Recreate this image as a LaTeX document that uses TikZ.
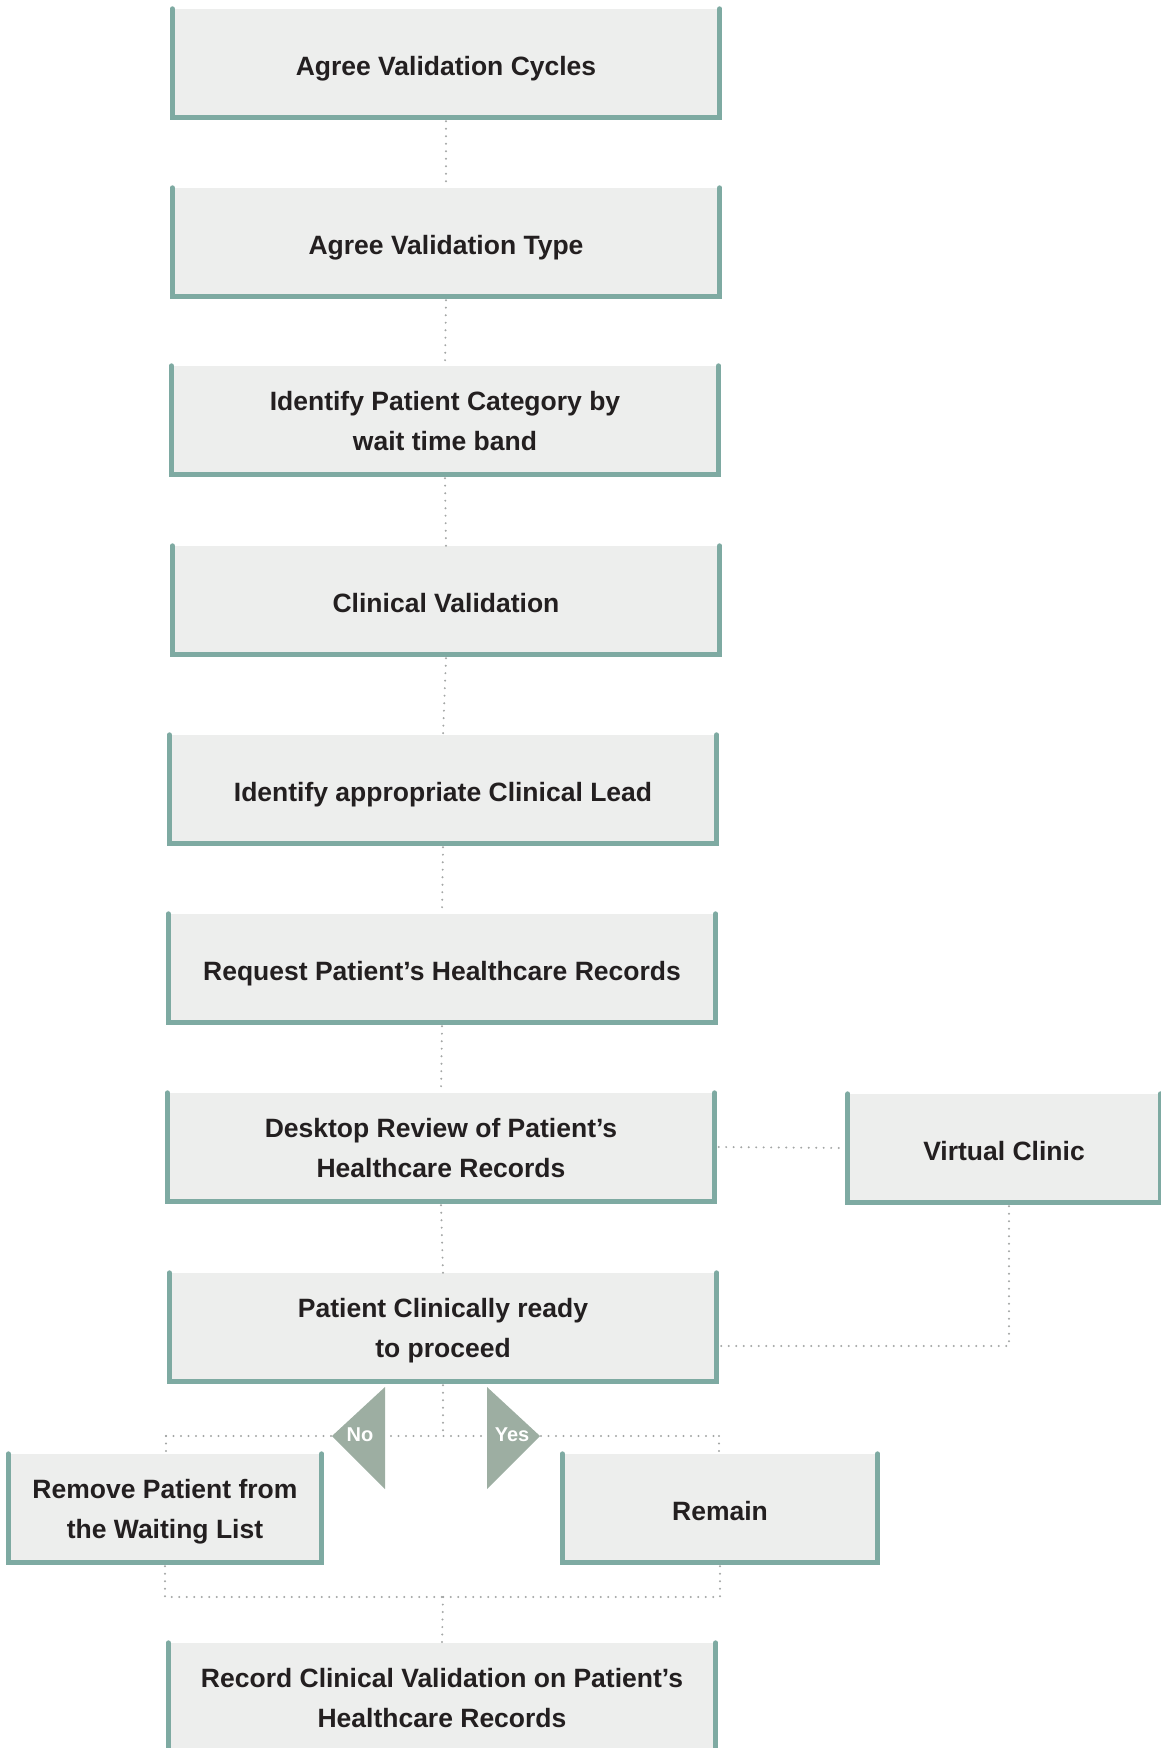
\documentclass[tikz,border=0pt]{standalone}
\usepackage{fontspec}
\setmainfont{Liberation Sans}
\usetikzlibrary{calc}
\definecolor{boxfill}{HTML}{EDEEED}
\definecolor{tealline}{HTML}{7EAAA2}
\definecolor{dotgrey}{HTML}{A3A6A5}
\definecolor{trifill}{HTML}{9DAEA2}
\definecolor{txt}{HTML}{231F20}
\begin{document}
\begin{tikzpicture}[x=1pt,y=-1pt,
  stepbox/.style={fill=boxfill, inner sep=0pt, minimum width=547pt, minimum height=108pt,
    align=center, text=txt, font=\bfseries\fontsize{26.5}{40}\selectfont,
    text height=31pt, text depth=6pt},
  twoline/.style={text height=66.5pt, text depth=5.8pt},
  sidebox/.style={stepbox, minimum width=313pt},
  uline/.style={draw=tealline, line width=5pt, line cap=round, line join=miter},
  conn/.style={draw=dotgrey, line width=2.2pt, line cap=round, dash pattern=on 0pt off 7.5pt},
  tri/.style={fill=trifill},
  trilabel/.style={text=white, font=\bfseries\fontsize{20}{24}\selectfont, inner sep=0pt}
]
\useasboundingbox (0,0) rectangle (1161,1748);

\node[stepbox] (b1) at (446,63) {Agree Validation Cycles};
\node[stepbox] (b2) at (446,242) {Agree Validation Type};
\node[stepbox, twoline] (b3) at (445,420) {Identify Patient Category by\\wait time band};
\node[stepbox] (b4) at (446,600) {Clinical Validation};
\node[stepbox] (b5) at (443,789) {Identify appropriate Clinical Lead};
\node[stepbox] (b6) at (442,968) {Request Patient’s Healthcare Records};
\node[stepbox, twoline] (b7) at (441,1147) {Desktop Review of Patient’s\\Healthcare Records};
\node[sidebox, minimum width=312pt] (vc) at (1004,1148) {Virtual Clinic};
\node[stepbox, twoline] (b8) at (443,1327) {Patient Clinically ready\\to proceed};
\node[sidebox, twoline] (rm) at (165,1508) {Remove Patient from\\the Waiting List};
\node[sidebox, minimum width=315pt] (re) at (720,1508) {Remain};
\node[stepbox, twoline] (b9) at (442,1697) {Record Clinical Validation on Patient’s\\Healthcare Records};

\foreach \n in {b1,b2,b3,b4,b5,b6,b7,vc,b8,rm,re,b9}
  \draw[uline] (\n.north west) |- (\n.south east) -- (\n.north east);

% vertical chain
\draw[conn] ([yshift=-4pt]b1.south) -- (b2.north);
\draw[conn] ([yshift=-4pt]b2.south) -- (b3.north);
\draw[conn] ([yshift=-4pt]b3.south) -- (b4.north);
\draw[conn] ([yshift=-4pt]b4.south) -- (b5.north);
\draw[conn] ([yshift=-4pt]b5.south) -- (b6.north);
\draw[conn] ([yshift=-4pt]b6.south) -- (b7.north);
\draw[conn] ([yshift=-4pt]b7.south) -- (b8.north);

% virtual clinic
\draw[conn] ([xshift=4pt]b7.east) -- ([xshift=-4pt]vc.west);
\draw[conn] ([xshift=5pt,yshift=-4pt]vc.south) |- ([xshift=4pt,yshift=-19pt]b8.east);

% decision split
\coordinate (split) at (443,1436);
\coordinate (lc) at (166,1436);
\coordinate (rc) at (719,1436);
\draw[conn] ([yshift=-4pt]b8.south) -- (split);
\draw[conn] (lc) -- (rc);
\draw[conn] (lc) -- (lc |- rm.north);
\draw[conn] (rc) -- (rc |- re.north);

% triangles
\fill[tri] (332,1436) -- (385,1387) -- (385,1489) -- cycle;
\fill[tri] (540,1436) -- (487,1387) -- (487,1489) -- cycle;
\node[trilabel] (no) at (360,1435) {No};
\node[trilabel] (yes) at (512,1435) {Yes};

% merge
\coordinate (merge) at (443,1597);
\draw[conn] ([yshift=-4pt]rm.south) |- (merge);
\draw[conn] ([yshift=-4pt]re.south) |- (merge);
\draw[conn] (merge) -- (b9.north);
\end{tikzpicture}
\end{document}
